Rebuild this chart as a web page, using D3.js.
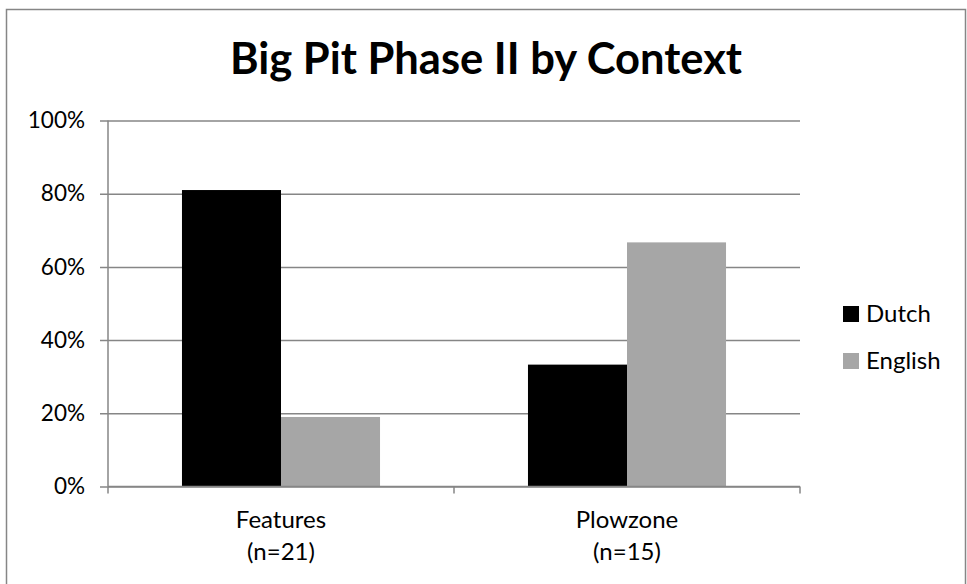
<!DOCTYPE html>
<html>
<head>
<meta charset="utf-8">
<script src="https://cdn.jsdelivr.net/npm/d3@7"></script>
<style>
  body { margin: 0; background: #fff; }
  text { font-family: Lato, "Open Sans", sans-serif; fill: #000; }
</style>
</head>
<body>
<svg id="chart" width="967" height="584"></svg>
<script>
// data
let categories = ['Features', 'Plowzone']
let sampleSizes = ['(n=21)', '(n=15)']
let seriesNames = ['Dutch', 'English']
let dutchValues = [0.81, 0.333]
let englishValues = [0.19, 0.667]
let yTicks = [0, 0.2, 0.4, 0.6, 0.8, 1]
let seriesColors = ['#000000', '#a6a6a6']

let width = 967
let height = 584
let gridCol = '#868686'

let svg = d3.select('#chart')

// outer frame, runs off the bottom like in the picture
svg.append('rect')
  .attr('x', 6.5).attr('y', 9.5)
  .attr('width', 959).attr('height', 620)
  .attr('fill', 'none')
  .attr('stroke', gridCol)
  .attr('stroke-width', 1.5)

svg.append('text')
  .attr('x', 486)
  .attr('y', 74)
  .attr('text-anchor', 'middle')
  .style('font-weight', 'bold')
  .style('font-size', '43.5px')
  .text('Big Pit Phase II by Context')

let plot = {left: 108, right: 800, top: 120.5, bottom: 486.5}

let xScale = d3.scaleBand()
  .domain(categories)
  .range([plot.left, plot.right])

let xSub = d3.scaleBand()
  .domain(seriesNames)
  .range([0, xScale.bandwidth()])
  .paddingOuter(0.747)

let yScale = d3.scaleLinear()
  .domain([0, 1])
  .range([plot.bottom, plot.top])

// gridlines + y axis
let axisY = d3.axisLeft(yScale)
  .tickValues(yTicks)
  .tickFormat(d3.format('.0%'))
  .tickSize(-(plot.right - plot.left))
  .tickPadding(23)

let gY = svg.append('g')
  .attr('transform', `translate(${plot.left},0)`)
  .call(axisY)
gY.select('.domain').remove()
gY.selectAll('.tick line')
  .attr('x1', -8)
  .attr('stroke', gridCol)
  .attr('stroke-width', 1.5)
gY.selectAll('.tick text')
  .style('font-size', '22.5px')
  .attr('fill', '#000')

svg.append('line')
  .attr('x1', plot.left).attr('x2', plot.left)
  .attr('y1', plot.top).attr('y2', plot.bottom)
  .attr('stroke', gridCol).attr('stroke-width', 1.5)

// bars
let rows = categories.map((c, i) => ({
  cat: c,
  vals: [dutchValues[i], englishValues[i]]
}))

let groups = svg.selectAll('.grp').data(rows)
  .enter().append('g')
  .attr('class', 'grp')
  .attr('transform', d => `translate(${xScale(d.cat)},0)`)

groups.selectAll('rect')
  .data(d => d.vals.map((v, j) => ({name: seriesNames[j], value: v, col: seriesColors[j]})))
  .enter().append('rect')
  .attr('x', d => xSub(d.name))
  .attr('width', xSub.bandwidth())
  .attr('y', d => yScale(d.value))
  .attr('height', d => yScale(0) - yScale(d.value))
  .attr('fill', d => d.col)

// x axis with ticks at the band edges
let axisX = d3.axisBottom(xScale).tickSize(0).tickFormat('')
let gX = svg.append('g')
  .attr('transform', `translate(0,${plot.bottom})`)
  .call(axisX)
gX.select('.domain').attr('stroke', gridCol).attr('stroke-width', 1.5)
  .attr('d', `M${plot.left},0H${plot.right}`)

let edges = categories.map(c => xScale(c)).concat([plot.right])
svg.selectAll('.xedge').data(edges)
  .enter().append('line')
  .attr('class', 'xedge')
  .attr('x1', d => d).attr('x2', d => d)
  .attr('y1', plot.bottom).attr('y2', plot.bottom + 7)
  .attr('stroke', gridCol).attr('stroke-width', 1.5)

let xLab = svg.selectAll('.xlab').data(categories)
  .enter().append('text')
  .attr('class', 'xlab')
  .attr('text-anchor', 'middle')
  .style('font-size', '24px')
xLab.append('tspan')
  .attr('x', d => xScale(d) + xScale.bandwidth() / 2)
  .attr('y', 528)
  .text(d => d)
xLab.append('tspan')
  .attr('x', d => xScale(d) + xScale.bandwidth() / 2)
  .attr('y', 560)
  .text((d, i) => sampleSizes[i])

// legend
let legend = svg.append('g').attr('transform', 'translate(843,0)')
let legY = [322, 369]
let leg = legend.selectAll('g').data(seriesNames)
  .enter().append('g')
  .attr('transform', (d, i) => `translate(0,${legY[i]})`)
leg.append('rect')
  .attr('x', 0).attr('y', -16)
  .attr('width', 16).attr('height', 16)
  .attr('fill', (d, i) => seriesColors[i])
leg.append('text')
  .attr('x', 23).attr('y', 0)
  .style('font-size', '24px')
  .text(d => d)
</script>
</body>
</html>
